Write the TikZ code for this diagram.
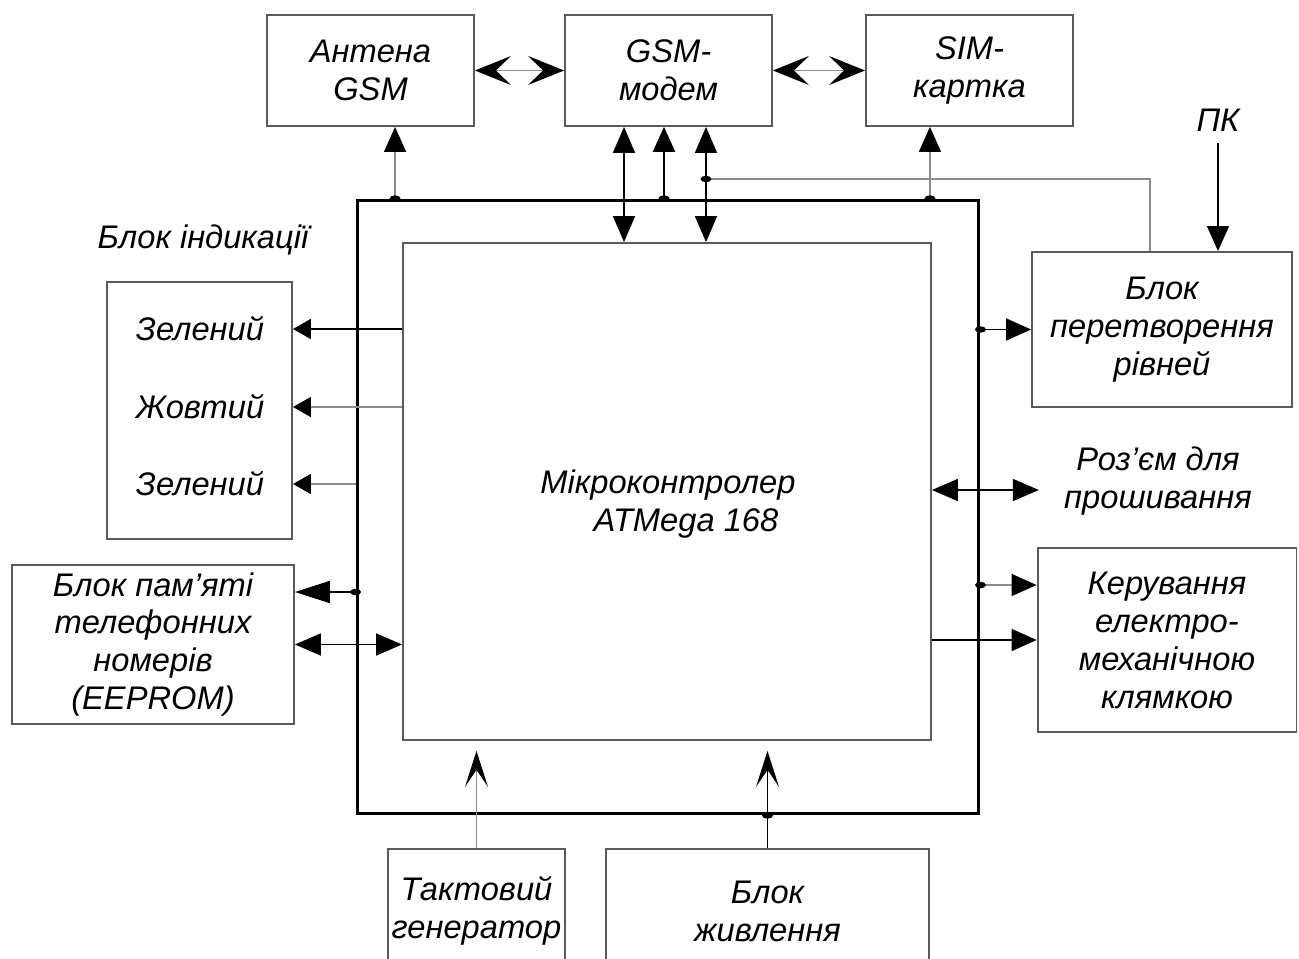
\documentclass[tikz,border=0pt]{standalone}
\usepackage{fontspec}
\setmainfont{Liberation Sans}
\usetikzlibrary{arrows.meta,positioning,calc}
\definecolor{BoxLine}{HTML}{5A5A5A}
\definecolor{WireGray}{HTML}{8C8C8C}
\newcommand{\diagfont}{\fontsize{18.6}{21.6}\selectfont\itshape}
\tikzset{
  blok/.style={draw=BoxLine,line width=1.1pt,align=center,inner sep=0pt,font=\diagfont},
  lbl/.style={align=center,inner sep=0pt,font=\diagfont},
  wire/.style={line width=1pt,black},
  gwire/.style={line width=0.9pt,WireGray},
  tip/.style={-{Triangle[length=0.5cm,width=0.44cm,color=black]}},
  tipsm/.style={-{Triangle[length=0.36cm,width=0.4cm,color=black]}},
  tipbig/.style={-{Triangle[length=0.7cm,width=0.44cm,color=black]}},
  both/.style={{Triangle[length=0.52cm,width=0.44cm,color=black]}-{Triangle[length=0.52cm,width=0.44cm,color=black]}},
  chev/.style={{Stealth[length=0.72cm,width=0.58cm,inset=0.3cm,color=black]}-{Stealth[length=0.72cm,width=0.58cm,inset=0.3cm,color=black]},line width=0.8pt,WireGray},
  stl/.style={-{Stealth[length=0.72cm,width=0.46cm,inset=0.34cm,color=black]},shorten >=0.2cm},
  tap/.style={black}
}
\begin{document}
\begin{tikzpicture}[x=0.02cm,y=-0.02cm]
  \useasboundingbox (0,0) rectangle (1299,959);
  \clip (0,0) rectangle (1299,959);

  % --- top row ---
  \node[blok,minimum width=4.14cm,minimum height=2.22cm] (ant) at (370.5,70.5) {Антена\\GSM};
  \node[blok,minimum width=4.14cm,minimum height=2.22cm] (gsm) at (668.5,70.5) {GSM-\\модем};
  \node[blok,minimum width=4.14cm,minimum height=2.22cm] (sim) at (969.5,70.5) {SIM-\\картка};
  \node[lbl] (pk) at (1218,120) {ПК};

  % --- microcontroller ---
  \node[draw,line width=1.7pt,minimum width=12.44cm,minimum height=12.28cm] (bus) at (668,507) {};
  \node[draw=BoxLine,line width=1.1pt,minimum width=10.56cm,minimum height=9.94cm] (mcu) at (667,491.5) {};
  \node[lbl] (mcutxt) at (668,504) {Мікроконтролер\\\hspace*{1.1em}ATMega 168};

  % --- left side ---
  \node[lbl] (indcap) at (203,240) {Блок індикації};
  \node[blok,minimum width=3.7cm,minimum height=5.14cm] (ind) at (199.5,410.5) {};
  \node[lbl] (z1) at (200,329) {Зелений};
  \node[lbl] (zh) at (200,407) {Жовтий};
  \node[lbl] (z2) at (200,484) {Зелений};
  \node[blok,minimum width=5.64cm,minimum height=3.18cm] (mem) at (153,644.5)
    {Блок пам'яті\\телефонних\\номерів\\(EEPROM)};

  % --- right side ---
  \node[blok,minimum width=5.2cm,minimum height=3.1cm] (conv) at (1162,329.5)
    {Блок\\перетворення\\рівней};
  \node[lbl] (roz) at (1158,481) {Роз'єм для\\прошивання};
  \node[blok,minimum width=5.18cm,minimum height=3.68cm] (ker) at (1167,640)
    {Керування\\електро-\\механічною\\клямкою};

  % --- bottom ---
  \node[blok,minimum width=3.54cm,minimum height=2.48cm] (tak) at (476.5,911) {Тактовий\\генератор};
  \node[blok,minimum width=6.46cm,minimum height=2.48cm] (zhv) at (767.5,911) {Блок\\живлення};

  % taps
  \coordinate (tA) at ([xshift=-5.46cm]bus.north);
  \coordinate (tG) at ([xshift=-0.08cm]bus.north);
  \coordinate (tS) at ([xshift=5.24cm]bus.north);
  \coordinate (g1) at ([xshift=-0.89cm]gsm.south);
  \coordinate (g3) at ([xshift=0.75cm]gsm.south);
  \coordinate (tP) at ($(g3)+(0,52)$);
  \coordinate (m1) at ([yshift=1.05cm]mem.east);
  \coordinate (tM) at (bus.west |- m1);
  \coordinate (tC) at (bus.east |- conv.west);
  \coordinate (r1) at ([xshift=-0.5cm,yshift=-0.18cm]roz.west);
  \coordinate (k1) at ([yshift=1.1cm]ker.west);
  \coordinate (tK) at (bus.east |- k1);
  \coordinate (tZ) at (bus.south -| zhv.north);

  % connectors
  \draw[chev] (ant.east) -- (gsm.west);
  \draw[chev] (gsm.east) -- (sim.west);
  \draw[gwire,tip] (tA) -- (tA |- ant.south);
  \draw[wire,both] (g1) -- (g1 |- mcu.north);
  \draw[wire,line width=1.6pt,tip] (tG) -- (tG |- gsm.south);
  \draw[wire,both] (g3) -- (g3 |- mcu.north);
  \draw[gwire,tip] (tS) -- (tS |- sim.south);
  \draw[gwire] (tP) -| ([xshift=-0.24cm]conv.north);
  \draw[wire,line width=0.8pt,tip] ([yshift=-0.22cm]pk.south) -- (pk.south |- conv.north);

  \draw[wire,tipsm] (mcu.west |- z1) -- (ind.east |- z1);
  \draw[gwire,tipsm] (mcu.west |- zh) -- (ind.east |- zh);
  \draw[gwire,tipsm] (bus.west |- z2) -- (ind.east |- z2);
  \draw[wire,tipbig] (tM) -- (m1);
  \draw[wire,both] (mem.east) -- (mem.east -| mcu.west);

  \draw[wire,tip] (tC) -- (conv.west);
  \draw[wire,both] (mcu.east |- r1) -- (r1);
  \draw[gwire,tip] (tK) -- (k1);
  \draw[wire,tip] (mcu.east |- ker.west) -- (ker.west);

  \draw[gwire,stl] (tak.north) -- (tak.north |- mcu.south);
  \draw[wire,stl] (zhv.north) -- (zhv.north |- mcu.south);

  % junction dots
  \foreach \p in {tA,tG,tS,tP,tM,tC,tK,tZ}
    \fill[tap] (\p) ellipse [x radius=0.11cm,y radius=0.065cm];
\end{tikzpicture}
\end{document}
